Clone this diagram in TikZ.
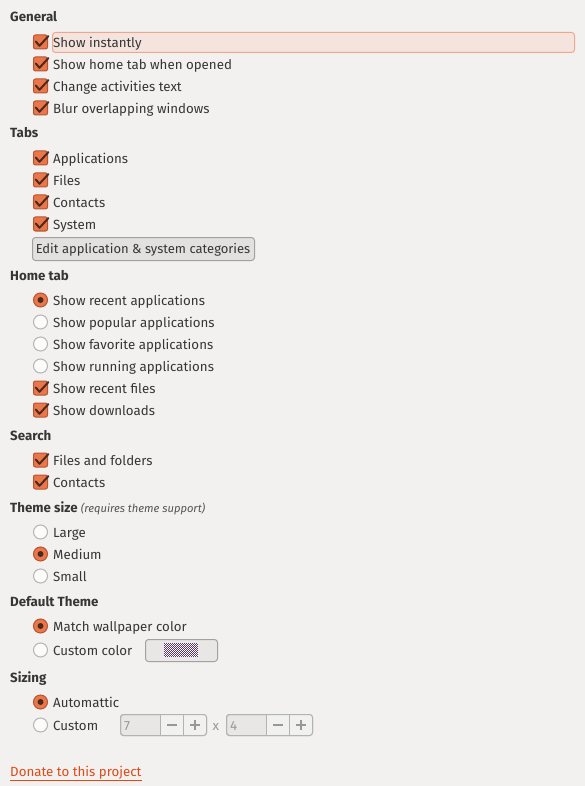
\documentclass[tikz,border=0pt]{standalone}
\usepackage{fontspec}
\setmainfont{Fira Sans}
\definecolor{bg}{HTML}{F2F1F0}
\definecolor{txt}{HTML}{363636}
\definecolor{orf}{HTML}{E9774B}
\definecolor{ord}{HTML}{B9532E}
\definecolor{chk}{HTML}{4E2A1E}
\definecolor{hlf}{HTML}{F5E4DE}
\definecolor{hld}{HTML}{EFA68C}
\definecolor{btnf}{HTML}{E2E1DF}
\definecolor{btnd}{HTML}{A3A19F}
\definecolor{spinf}{HTML}{E8E7E6}
\definecolor{spind}{HTML}{B5B3B1}
\definecolor{spint}{HTML}{9A9896}
\definecolor{swd}{HTML}{5E3370}
\definecolor{link}{HTML}{DF4A16}
\newcommand\cbitem[3]{%
  \draw[cbox] (33.5,#2-7) rectangle (47.5,#2+7);
  \draw[chkmark] (35.8,#2-0.5) -- (39.5,#2+3.8) -- (48.3,#2-5.8);
  \node[lbl] (#1) at (53,#2+5.2) {#3};
}
\newcommand\raditem[4]{%
  \ifnum#3=1
    \draw[radon] (40.5,#2) circle (7);
    \fill[chk] (40.5,#2) circle (3);
  \else
    \draw[radoff] (40.5,#2) circle (7);
  \fi
  \node[lbl] (#1) at (53,#2+5.2) {#4};
}
\newcommand\spinbox[4]{% name, x0, y, value
  \draw[spinbox] (#2+0.5,#3-10.5) rectangle (#2+86.5,#3+10.5);
  \fill[white!40!spinf] (#2+40.5,#3-10) rectangle (#2+86,#3+10);
  \draw[spinbox,fill=none] (#2+0.5,#3-10.5) rectangle (#2+86.5,#3+10.5);
  \draw[spind] (#2+40.5,#3-10.5) -- (#2+40.5,#3+10.5);
  \draw[spind] (#2+63.5,#3-10.5) -- (#2+63.5,#3+10.5);
  \node[lbl,text=spint] (#1) at (#2+4,#3+5.2) {#4};
  \draw[spint,line width=1.4pt] (#2+47,#3) -- (#2+57,#3);
  \draw[spint,line width=1.4pt] (#2+70,#3) -- (#2+80,#3);
  \draw[spint,line width=1.4pt] (#2+75,#3-5) -- (#2+75,#3+5);
}
\begin{document}
\begin{tikzpicture}[x=1pt,y=-1pt,
  font=\fontsize{13.3}{15}\selectfont,
  lbl/.style={anchor=base west,inner sep=0pt,text=txt},
  hdr/.style={anchor=base west,inner sep=0pt,text=txt,font=\fontsize{13.3}{15}\selectfont\bfseries},
  cbox/.style={draw=ord,fill=orf,rounded corners=2pt,line width=1pt},
  chkmark/.style={draw=chk,line width=2pt,line cap=round,line join=round},
  radon/.style={draw=ord,fill=orf,line width=1pt},
  radoff/.style={draw=btnd!80,fill=white!70!bg,line width=1pt},
  btn/.style={draw=btnd,fill=btnf,rounded corners=3pt,line width=1pt},
  spinbox/.style={draw=spind,fill=spinf,rounded corners=3pt,line width=1pt}]
\useasboundingbox[fill=bg] (0,0) rectangle (585,786);

% General
\node[hdr] (hgen) at (10,22) {General};
\draw[draw=hld,fill=hlf,rounded corners=3pt,line width=1pt] (52.5,32.5) rectangle (574.5,52.5);
\cbitem{g1}{42}{Show instantly}
\cbitem{g2}{64}{Show home tab when opened}
\cbitem{g3}{86}{Change activities text}
\cbitem{g4}{108}{Blur overlapping windows}

% Tabs
\node[hdr] (htabs) at (10,138) {Tabs};
\cbitem{t1}{158}{Applications}
\cbitem{t2}{180}{Files}
\cbitem{t3}{202}{Contacts}
\cbitem{t4}{224}{System}
\draw[btn] (32.5,237.5) rectangle (254.5,260.5);
\node[lbl,anchor=base,font=\fontsize{13}{15}\selectfont] (editbtn) at (143,253.5) {Edit application \& system categories};

% Home tab
\node[hdr] (hhome) at (10,280) {Home tab};
\raditem{h1}{300}{1}{Show recent applications}
\raditem{h2}{322}{0}{Show popular applications}
\raditem{h3}{344}{0}{Show favorite applications}
\raditem{h4}{366}{0}{Show running applications}
\cbitem{h5}{388}{Show recent files}
\cbitem{h6}{410}{Show downloads}

% Search
\node[hdr] (hsearch) at (10,440) {Search};
\cbitem{s1}{460}{Files and folders}
\cbitem{s2}{482}{Contacts}

% Theme size
\node[hdr] (hsize) at (10,512) {Theme size};
\node[lbl,anchor=base west,text=txt!85,font=\fontsize{11.2}{13}\selectfont\itshape] (hsizenote) at (hsize.base east) {\ (requires theme support)};
\raditem{z1}{532}{0}{Large}
\raditem{z2}{554}{1}{Medium}
\raditem{z3}{576}{0}{Small}

% Default Theme
\node[hdr] (htheme) at (10,606) {Default Theme};
\raditem{d1}{626}{1}{Match wallpaper color}
\raditem{d2}{650}{0}{Custom color}
\draw[btn,fill=btnf!60!bg] (145.5,639.5) rectangle (217.5,661.5);
\fill[white] (164,643) rectangle (198,657);
\foreach \i in {0,...,16} \foreach \j in {0,...,6} {
  \fill[swd] (164+2*\i,643+2*\j) rectangle ++(1,1);
  \fill[swd] (165+2*\i,644+2*\j) rectangle ++(1,1);
}

% Sizing
\node[hdr] (hsizing) at (10,682) {Sizing};
\raditem{r1}{702}{1}{Automattic}
\raditem{r2}{725}{0}{Custom}
\spinbox{sp1}{120}{725}{7}
\node[lbl,text=spint] (xsep) at (212.5,730.2) {x};
\spinbox{sp2}{226}{725}{4}

% Donate
\node[lbl,text=link] (donate) at (10,776) {Donate to this project};
\draw[link,line width=1pt] (10,780.5) -- (donate.base east |- 0,780.5);
\end{tikzpicture}
\end{document}
